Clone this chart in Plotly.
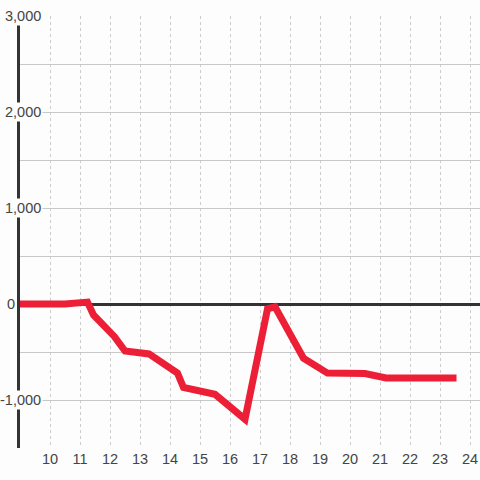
import plotly.graph_objects as go

# Data
hours = [9, 10.5, 11.25, 11.45, 12.15, 12.5, 13.3, 14.25, 14.45, 15.5, 16.5,
         17.25, 17.5, 18.15, 18.45, 19.25, 20.5, 21.2, 23.55]
values = [0, 0, 20, -115, -340, -490, -520, -720, -870, -940, -1200,
          -50, -30, -390, -565, -720, -725, -770, -770]

x_ticks = list(range(10, 25))
y_ticks = [-1000, 0, 1000, 2000, 3000]
y_tick_labels = ["-1,000", "0", "1,000", "2,000", "3,000"]
y_grid = [-1500, -1000, -500, 0, 500, 1000, 1500, 2000, 2500, 3000]

BG = "#fcfdfc"
FONT = dict(family="Liberation Sans, Arial, sans-serif", size=14.5, color="#444")

fig = go.Figure()
fig.add_trace(go.Scatter(
    x=hours, y=values, mode="lines",
    line=dict(color="#ec1f36", width=7),
    hoverinfo="skip", showlegend=False,
))

annotations = []
for v, lab in zip(y_ticks, y_tick_labels):
    shift = -3 if v == 0 else 23
    annotations.append(dict(
        x=0, xref="paper", y=v, yref="y", text=lab, showarrow=False,
        xanchor="right", yanchor="middle", xshift=shift,
        bgcolor=BG, font=FONT, borderpad=1,
    ))

fig.update_layout(
    width=480, height=480,
    margin=dict(l=20, r=0, t=16, b=32, autoexpand=False),
    paper_bgcolor=BG, plot_bgcolor=BG,
    annotations=annotations,
    xaxis=dict(
        range=[9, 9 + 460 / 30],
        tickmode="array", tickvals=x_ticks, ticks="",
        showline=False, zeroline=False,
        showgrid=True, gridcolor="#cccccc", gridwidth=1, griddash="3px,3px",
        tickfont=FONT, fixedrange=True,
    ),
    yaxis=dict(
        range=[-1500, 3000],
        tickmode="array", tickvals=y_grid,
        showticklabels=False, ticks="",
        showgrid=True, gridcolor="#c8c8c8", gridwidth=1,
        zeroline=True, zerolinecolor="#333333", zerolinewidth=3,
        showline=True, linecolor="#333333", linewidth=3,
        layer="below traces", fixedrange=True,
    ),
)

fig.write_html("out.html", config={"displayModeBar": False},
               post_script="document.body.style.margin='0';")
